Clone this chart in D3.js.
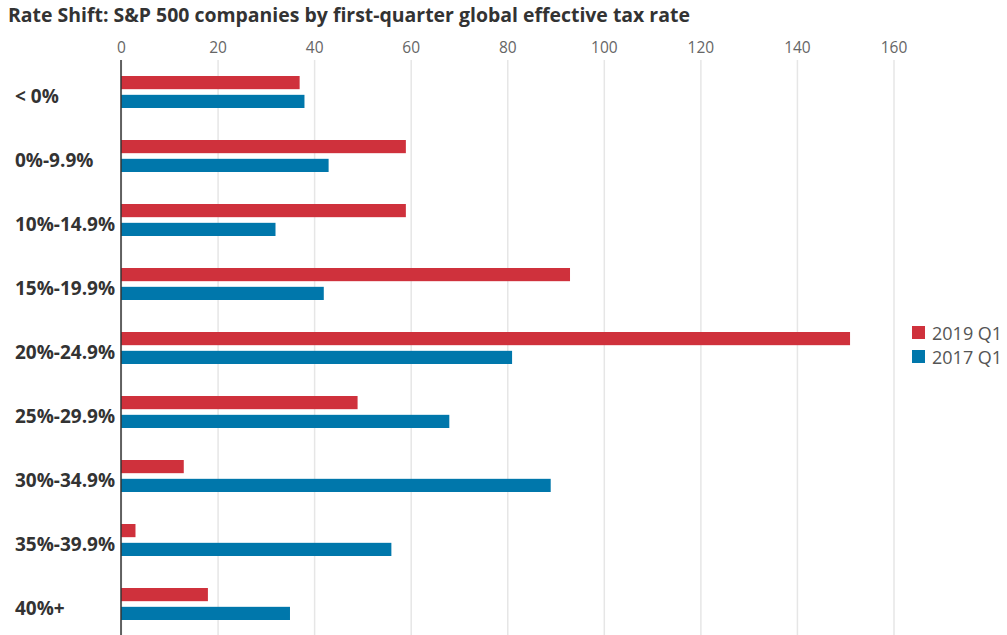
<!DOCTYPE html>
<html>
<head>
<meta charset="utf-8">
<script src="https://cdn.jsdelivr.net/npm/d3@7"></script>
<style>
  html, body { margin: 0; padding: 0; background: #fff; }
  body { width: 1007px; height: 635px; overflow: hidden; }
  text { font-family: "Open Sans", "Noto Sans", sans-serif; }
</style>
</head>
<body>
<script>
// data
var categories = ["< 0%", "0%-9.9%", "10%-14.9%", "15%-19.9%", "20%-24.9%",
    "25%-29.9%", "30%-34.9%", "35%-39.9%", "40%+"];
var series = ["2019 Q1", "2017 Q1"];
var values2019 = [37, 59, 59, 93, 151, 49, 13, 3, 18];
var values2017 = [38, 43, 32, 42, 81, 68, 89, 56, 35];
var tickValues = [0, 20, 40, 60, 80, 100, 120, 140, 160];

var colours = { "2019 Q1": "#cf313c", "2017 Q1": "#0077ab" };

var width = 1007;
var height = 635;

var svg = d3.select("body")
    .append("svg")
    .attr("width", width)
    .attr("height", height);

// title, shrunk to fit the same width as the original
var title = svg.append("text")
    .attr("x", 8)
    .attr("y", 22)
    .style("font-size", "18px")
    .style("font-weight", "700")
    .style("fill", "#333")
    .text("Rate Shift: S&P 500 companies by first-quarter global effective tax rate");
var tw = title.node().getComputedTextLength();
title.style("font-size", (18 * 682 / tw) + "px");

// scales
var x = d3.scaleLinear()
    .domain([0, 160])
    .range([121, 893.5]);

var y = d3.scaleBand()
    .domain(categories)
    .range([60, 636])
    .paddingInner(0.5)
    .paddingOuter(0.25);

var ySeries = d3.scaleBand()
    .domain(series)
    .range([0, y.bandwidth()])
    .paddingInner(0.3);

// gridlines + tick labels along the top
var axis = svg.append("g")
    .attr("transform", "translate(0,60)")
    .call(d3.axisTop(x)
        .tickValues(tickValues)
        .tickSize(-(height - 60))
        .tickPadding(7));

axis.select(".domain").remove();
axis.selectAll(".tick line")
    .attr("stroke", "#e6e6e6")
    .attr("stroke-width", 1.5);
axis.selectAll(".tick text")
    .attr("fill", "#666")
    .style("font-size", "15.5px")
    .style("font-family", "'Open Sans', sans-serif");

// rows of bars
var rows = categories.map(function(c, i) {
    return {
        category: c,
        bars: [
            { key: "2019 Q1", value: values2019[i] },
            { key: "2017 Q1", value: values2017[i] }
        ]
    };
});

var row = svg.selectAll(".row")
    .data(rows)
    .enter().append("g")
    .attr("class", "row")
    .attr("transform", function(d) {
        return "translate(0," + y(d.category) + ")";
    });

row.selectAll("rect")
    .data(function(d) { return d.bars; })
    .enter().append("rect")
    .attr("x", x(0))
    .attr("y", function(d) { return ySeries(d.key); })
    .attr("width", function(d) { return x(d.value) - x(0); })
    .attr("height", ySeries.bandwidth())
    .attr("fill", function(d) { return colours[d.key]; });

// category labels
row.append("text")
    .attr("x", 15)
    .attr("y", 27)
    .style("font-size", "19px")
    .style("font-weight", "700")
    .style("fill", "#333")
    .text(function(d) { return d.category; });

// zero line
svg.append("line")
    .attr("x1", x(0))
    .attr("x2", x(0))
    .attr("y1", 60)
    .attr("y2", height)
    .attr("stroke", "#333")
    .attr("stroke-width", 1.5);

// legend
var legend = svg.selectAll(".legend")
    .data(series)
    .enter().append("g")
    .attr("class", "legend")
    .attr("transform", function(d, i) {
        return "translate(912," + (326 + i * 24) + ")";
    });

legend.append("rect")
    .attr("width", 13)
    .attr("height", 13)
    .attr("fill", function(d) { return colours[d]; });

legend.append("text")
    .attr("x", 20)
    .attr("y", 13.5)
    .style("font-size", "18px")
    .style("fill", "#555")
    .text(function(d) { return d; });
</script>
</body>
</html>
